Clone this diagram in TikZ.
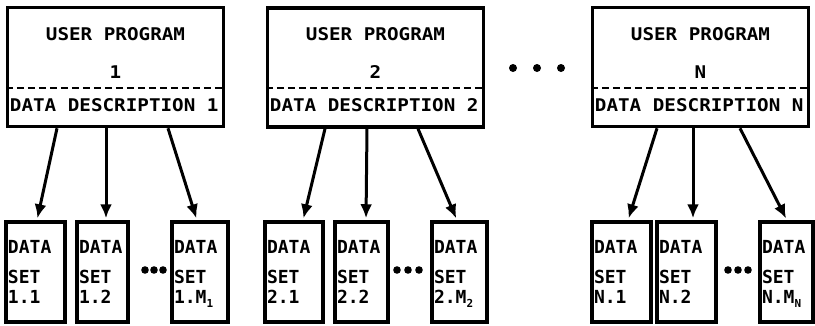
\documentclass[tikz,border=0pt]{standalone}
\usepackage{fontspec}
\usetikzlibrary{arrows.meta,calc}
\newfontfamily\widemono[FakeStretch=1.1]{DejaVu Sans Mono}
\newfontfamily\plainmono{DejaVu Sans Mono}
\newcommand{\subsc}[1]{\raisebox{-4pt}[0pt][0pt]{\fontsize{11}{11}\selectfont #1}}
\tikzset{
  ubox/.style={draw, line width=3.5pt, rectangle, inner sep=0pt, minimum width=216pt, minimum height=119pt},
  dbox/.style={draw, line width=3.5pt, rectangle, inner xsep=2pt, inner ysep=0pt, minimum height=100pt, align=left,
               font=\plainmono\bfseries\fontsize{18}{20}\selectfont},
  ptext/.style={font=\widemono\bfseries\fontsize{17.5}{20}\selectfont, inner sep=0pt},
  sep/.style={line width=2.2pt, dash pattern=on 7pt off 4pt},
  arr/.style={line width=3pt, -{Latex[length=14pt,width=12pt]}, shorten >=2pt},
  dot/.style={fill=black, draw=none}
}
\begin{document}
\begin{tikzpicture}[x=1pt,y=-1pt]
\useasboundingbox (0,0) rectangle (815,325);
% user program boxes
\node[ubox] (p1) at (115.5,67) {};
\node[ubox] (p2) at (375.5,67.5) {};
\node[ubox] (pN) at (700.5,67) {};
\foreach \b/\t in {p1/1, p2/2, pN/N} {
  \draw[sep] (\b.west |- 0,88) -- (\b.east |- 0,88);
  \node[ptext] (\b u) at (\b.center |- 0,34) {USER PROGRAM};
  \node[ptext] (\b n) at (\b.center |- 0,72) {\t};
  \node[ptext, anchor=west] (\b d) at ([xshift=4pt]\b.west |- 0,105) {DATA DESCRIPTION \t};
}
% dots between program boxes
\foreach \x in {513,537,561} \fill[dot] (\x,68) circle (4pt);
% data set boxes
\node[dbox, text width=55pt] (d11) at (35.5,272) {DATA\\[10pt]SET\\1.1};
\node[dbox, text width=47pt] (d12) at (102.5,272) {DATA\\[10pt]SET\\1.2};
\node[dbox, text width=52pt] (d1m) at (200,272) {DATA\\[10pt]SET\\1.M\subsc{1}};
\node[dbox, text width=54pt] (d21) at (294,272) {DATA\\[10pt]SET\\2.1};
\node[dbox, text width=49pt] (d22) at (361.5,272) {DATA\\[10pt]SET\\2.2};
\node[dbox, text width=51pt] (d2m) at (459.5,272) {DATA\\[10pt]SET\\2.M\subsc{2}};
\node[dbox, text width=55pt] (dn1) at (621.5,272) {DATA\\[10pt]SET\\N.1};
\node[dbox, text width=55pt] (dn2) at (686.5,272) {DATA\\[10pt]SET\\N.2};
\node[dbox, text width=49pt] (dnm) at (786.5,272) {DATA\\[10pt]SET\\N.M\subsc{N}};
% dots between data boxes
\foreach \x in {145,154,163, 397,408,419, 728,738,748} \fill[dot] (\x,270) circle (3.8pt);
% arrows
\draw[arr] (p1.south -| 57,0) -- (d11.north -| 37,0);
\draw[arr] (p1.south -| 106,0) -- (d12.north -| 106,0);
\draw[arr] (p1.south -| 168,0) -- (d1m.north -| 197,0);
\draw[arr] (p2.south -| 325,0) -- (d21.north -| 303,0);
\draw[arr] (p2.south -| 367,0) -- (d22.north -| 366,0);
\draw[arr] (p2.south -| 418,0) -- (d2m.north -| 457,0);
\draw[arr] (pN.south -| 657,0) -- (dn1.north -| 628,0);
\draw[arr] (pN.south -| 693,0) -- (dn2.north -| 693,0);
\draw[arr] (pN.south -| 740,0) -- (dnm.north -| 787,0);
\end{tikzpicture}
\end{document}
